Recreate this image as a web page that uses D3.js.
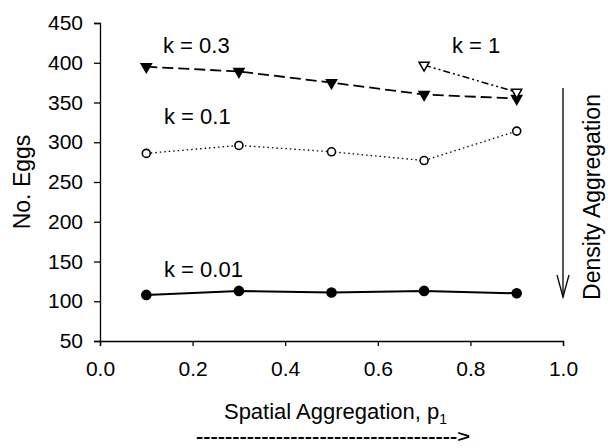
<!DOCTYPE html>
<html><head><meta charset="utf-8">
<script src="https://cdn.jsdelivr.net/npm/d3@7"></script>
<style>body{margin:0;background:#fff}svg{display:block}text{font-family:"Liberation Sans",Arial,sans-serif;fill:#000}</style>
</head><body><svg id="c" width="608" height="448"></svg>
<script>
const xVals = [0.1, 0.3, 0.5, 0.7, 0.9];
const k03 = [395, 389, 375, 360, 355];
const k1X = [0.7, 0.9];
const k1 = [397, 363];
const k01 = [286, 296, 288, 277, 314];
const k001 = [108, 113, 111, 113, 110];
const xTicks = [0, 0.2, 0.4, 0.6, 0.8, 1.0];
const yTicks = [50, 100, 150, 200, 250, 300, 350, 400, 450];

const svg = d3.select("#c");
const x = d3.scaleLinear().domain([0, 1]).range([100, 563]);
const y = d3.scaleLinear().domain([50, 450]).range([341, 23]);
const fs = 21;

const gx = svg.append("g").attr("transform", `translate(0,${y(50)})`)
  .call(d3.axisBottom(x).tickValues(xTicks).tickFormat(d3.format(".1f")).tickSize(5).tickPadding(15));
const gy = svg.append("g").attr("transform", `translate(${x(0)},0)`)
  .call(d3.axisLeft(y).tickValues(yTicks).tickSize(6).tickPadding(11));
[gx, gy].forEach(g => {
  g.select(".domain").attr("stroke", "#000").attr("stroke-width", 1.3);
  g.selectAll(".tick line").attr("stroke", "#000").attr("stroke-width", 1.3);
  g.selectAll("text").attr("font-size", fs).attr("font-family", "Liberation Sans, Arial, sans-serif").attr("fill", "#000");
});

function series(xs, ys, dash, width) {
  const line = d3.line().x((d, i) => x(xs[i])).y(d => y(d));
  svg.append("path").datum(ys).attr("d", line).attr("fill", "none")
    .attr("stroke", "#000").attr("stroke-width", width).attr("stroke-dasharray", dash);
}
const tri = d3.symbol().type(d3.symbolTriangle).size(45);
function triangles(xs, ys, filled) {
  svg.append("g").selectAll("path").data(ys).join("path")
    .attr("d", tri)
    .attr("transform", (d, i) => `translate(${x(xs[i])},${y(d)}) rotate(180)`)
    .attr("fill", filled ? "#000" : "#fff").attr("stroke", "#000").attr("stroke-width", 1.5);
}
function circles(xs, ys, filled, r) {
  svg.append("g").selectAll("circle").data(ys).join("circle")
    .attr("cx", (d, i) => x(xs[i])).attr("cy", d => y(d)).attr("r", r)
    .attr("fill", filled ? "#000" : "#fff").attr("stroke", "#000").attr("stroke-width", 1.6);
}

series(xVals, k03, "11,5", 1.8);
series(k1X, k1, "7,3,2,3,2,3", 1.5);
series(xVals, k01, "1.5,3", 1.3);
series(xVals, k001, null, 2);
triangles(xVals, k03, true);
triangles(k1X, k1, false);
circles(xVals, k01, false, 4);
circles(xVals, k001, true, 4.5);

function label(t, px, py) {
  svg.append("text").attr("x", px).attr("y", py).attr("font-size", fs + 1).text(t);
}
label("k = 0.3", 163, 53);
label("k = 1", 452, 53);
label("k = 0.1", 164, 124);
label("k = 0.01", 164, 277);

// right side density arrow
svg.append("line").attr("x1", 563).attr("x2", 563).attr("y1", 88).attr("y2", 297)
  .attr("stroke", "#000").attr("stroke-width", 1.3);
svg.append("path").attr("d", "M557,275 L563,297 L569,275").attr("fill", "none")
  .attr("stroke", "#000").attr("stroke-width", 1.3);
svg.append("text").attr("transform", "translate(600,197) rotate(-90)")
  .attr("text-anchor", "middle").attr("font-size", 23).text("Density Aggregation");

// axis titles
svg.append("text").attr("transform", `translate(30,${(y(50)+y(450))/2}) rotate(-90)`)
  .attr("text-anchor", "middle").attr("font-size", 23).text("No. Eggs");
const t = svg.append("text").attr("x", x(0.5) + 4).attr("y", 419).attr("text-anchor", "middle").attr("font-size", 22);
t.append("tspan").text("Spatial Aggregation, p");
t.append("tspan").attr("font-size", 14).attr("dy", 5).text("1");
svg.append("text").attr("x", 196).attr("y", 442).attr("font-size", 16).attr("font-weight", "bold")
  .attr("textLength", 274).attr("lengthAdjust", "spacingAndGlyphs")
  .text("------------------------------------>");
</script></body></html>
